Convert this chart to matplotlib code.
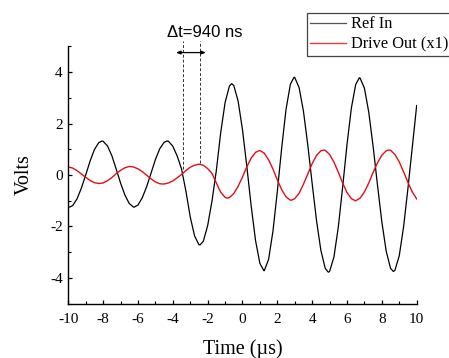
import numpy as np
import matplotlib
matplotlib.use('Agg')
import matplotlib.pyplot as plt

# значения (шаг 0.25 мкс) + экстремумы
t_grid = np.arange(-10, 10.001, 0.25)

ref_in = [-1.22, -1.19, -0.93, -0.51, 0.0, 0.54, 0.99, 1.26, 1.31, 1.13,
          0.75, 0.23, -0.31, -0.78, -1.11, -1.25, -1.17, -0.88, -0.45, 0.07,
          0.60, 1.02, 1.27, 1.31, 1.12, 0.74, 0.24, -0.62, -1.63, -2.37,
          -2.71, -2.58, -1.97, -1.01, 0.18, 1.65, 2.81, 3.46, 3.48, 2.87,
          1.76, 0.33, -1.21, -2.55, -3.44, -3.72, -3.28, -2.18, -0.64, 1.05,
          2.55, 3.53, 3.79, 3.40, 2.48, 1.16, -0.33, -1.77, -2.93, -3.63,
          -3.75, -3.19, -2.03, -0.47, 1.18, 2.60, 3.52, 3.77, 3.38, 2.44,
          1.11, -0.39, -1.82, -2.96, -3.63, -3.71, -3.14, -2.01, -0.51, 1.09,
          2.70]
ref_peak_t = [-9.93, -8.07, -6.22, -4.34, -2.44, -0.62, 1.23, 2.96, 4.93, 6.71, 8.66]
ref_peak_v = [-1.25, 1.32, -1.25, 1.32, -2.72, 3.55, -3.72, 3.80, -3.78, 3.78, -3.75]

drive_out = [0.31, 0.27, 0.17, 0.04, -0.09, -0.21, -0.30, -0.33, -0.31, -0.22,
             -0.10, 0.05, 0.18, 0.28, 0.33, 0.31, 0.24, 0.13, -0.01, -0.15,
             -0.27, -0.34, -0.35, -0.31, -0.23, -0.11, 0.02, 0.17, 0.30, 0.38,
             0.42, 0.38, 0.25, 0.06, -0.31, -0.67, -0.87, -0.88, -0.72, -0.44,
             -0.08, 0.32, 0.66, 0.88, 0.95, 0.85, 0.59, 0.23, -0.19, -0.57,
             -0.85, -0.98, -0.92, -0.71, -0.36, 0.04, 0.44, 0.76, 0.94, 0.96,
             0.80, 0.50, 0.11, -0.31, -0.68, -0.92, -1.00, -0.90, -0.66, -0.31,
             0.10, 0.47, 0.77, 0.94, 0.96, 0.80, 0.51, 0.12, -0.29, -0.66,
             -0.93]
drive_peak_t = [-8.22, -6.45, -4.58, -2.47, -0.88, 0.98, 2.80, 4.65, 6.48, 8.40]
drive_peak_v = [-0.33, 0.33, -0.35, 0.42, -0.90, 0.95, -0.98, 0.97, -1.00, 0.97]

marker_t = [-3.43, -2.44]   # пунктирные линии
delta_label = '\u0394t=940 ns'


def merge(t1, v1, t2, v2):
    t = np.concatenate([t1, t2])
    v = np.concatenate([v1, v2])
    o = np.argsort(t)
    return t[o], v[o]


tr, vr = merge(t_grid, ref_in, ref_peak_t, ref_peak_v)
td, vd = merge(t_grid, drive_out, drive_peak_t, drive_peak_v)

plt.rcParams['font.family'] = ['Liberation Serif', 'DejaVu Serif']
plt.rcParams['axes.unicode_minus'] = False

fig = plt.figure(figsize=(4.49, 3.58), dpi=100)
ax = fig.add_axes([0.1521, 0.152, 0.7759, 0.7184])

ax.plot(tr, vr, color='black', lw=0.9, label='Ref In')
ax.plot(td, vd, color='#e01010', lw=1.0, label='Drive Out (x1)')

ax.set_xlim(-10, 10)
ax.set_ylim(-5, 5)
ax.set_xticks(np.arange(-10, 11, 2))
ax.set_yticks([-4, -2, 0, 2, 4])
ax.set_xticks(np.arange(-9, 10, 2), minor=True)
ax.set_yticks([-5, -3, -1, 1, 3, 5], minor=True)
ax.tick_params(which='major', direction='in', length=3, width=0.9, labelsize=11)
ax.tick_params(which='minor', direction='in', length=2, width=0.8)
ax.tick_params(axis='x', pad=7)
ax.tick_params(axis='y', pad=4)
for s in ['top', 'right']:
    ax.spines[s].set_visible(False)
for s in ['left', 'bottom']:
    ax.spines[s].set_linewidth(1.0)

ax.set_xlabel('Time (\u00b5s)', fontsize=14.5, labelpad=9)
ax.set_ylabel('Volts', fontsize=14.5, labelpad=12)

# пунктир и стрелка
ax.plot([marker_t[0], marker_t[0]], [0.25, 5.2], ls=(0, (3, 2)), color='#333333', lw=0.7, clip_on=False)
ax.plot([marker_t[1], marker_t[1]], [0.45, 5.2], ls=(0, (3, 2)), color='#333333', lw=0.7, clip_on=False)
ax.annotate('', xy=(-2.10, 4.76), xytext=(-3.82, 4.76),
            arrowprops=dict(arrowstyle='<|-|>,head_length=0.25,head_width=0.1',
                            color='black', lw=0.9, shrinkA=0, shrinkB=0),
            annotation_clip=False)
ax.text(-2.15, 5.55, delta_label, ha='center', va='center', fontsize=12,
        family=['Liberation Sans', 'DejaVu Sans'], clip_on=False)

leg = fig.legend(loc='upper left', bbox_to_anchor=(307 / 449, 1 - 13 / 358),
                 fontsize=11.8, frameon=True, fancybox=False, framealpha=1,
                 edgecolor='#444444', handlelength=2.2, handletextpad=0.3,
                 borderpad=0.2, labelspacing=0.25, borderaxespad=0)
leg.get_frame().set_linewidth(0.9)
leg.get_lines()[0].set_color('#555555')
leg.get_lines()[1].set_color('#e04040')

fig.savefig('out.png', dpi=100)
